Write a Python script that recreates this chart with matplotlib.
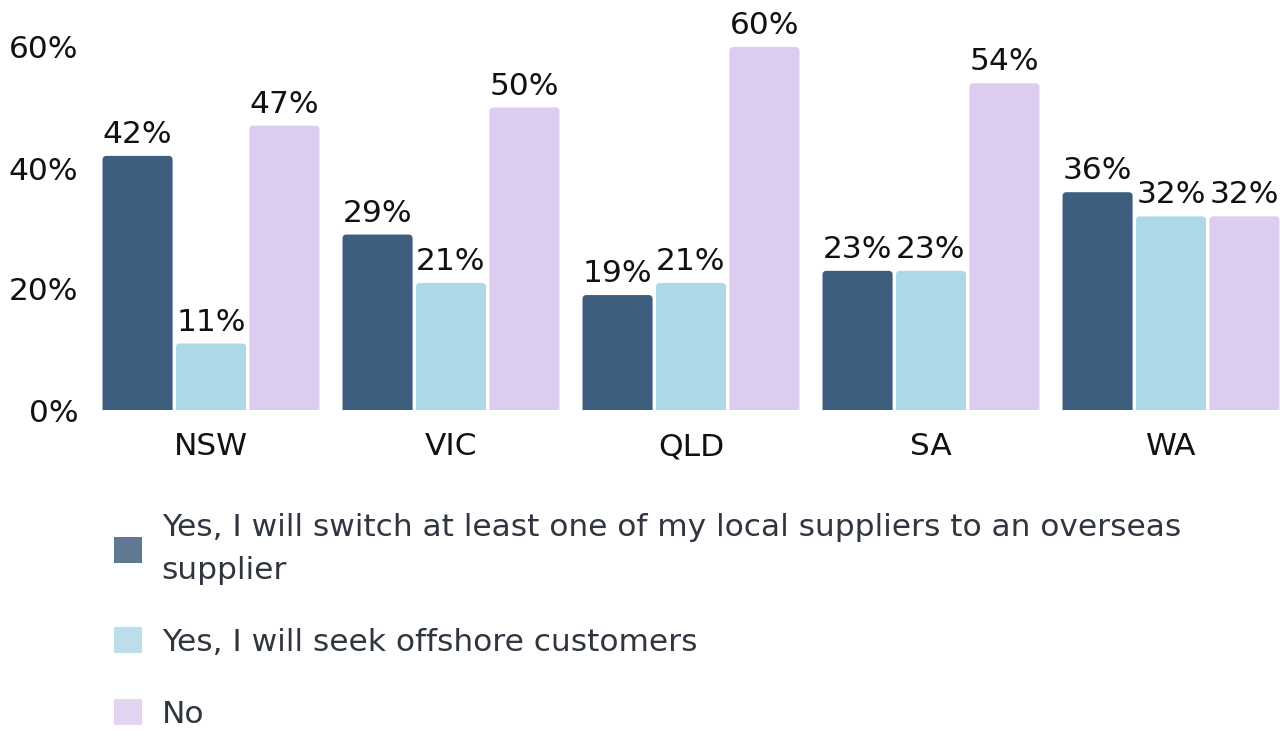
import matplotlib
matplotlib.use("Agg")
import matplotlib.pyplot as plt
from matplotlib.patches import Patch, FancyBboxPatch
import numpy as np

plt.rcParams['font.family'] = ['DejaVu Sans']

states = ["NSW", "VIC", "QLD", "SA", "WA"]
series_names = [
    "Yes, I will switch at least one of my local suppliers to an overseas\nsupplier",
    "Yes, I will seek offshore customers",
    "No",
]
switch_suppliers = [42, 29, 19, 23, 36]
offshore_customers = [11, 21, 21, 23, 32]
no_change = [47, 50, 60, 54, 32]
yticks = [0, 20, 40, 60]
colors = ["#3e5e80", "#add8e6", "#dccdf0"]

W, H = 1286, 738
fig = plt.figure(figsize=(W / 100, H / 100), dpi=100)
left, right = 91 / W, 1291 / W
bottom, top = 1 - 410 / H, 1 - 47 / H
ax = fig.add_axes([left, bottom, right - left, top - bottom])

ax.set_xlim(-0.5, len(states) - 0.5)
ax.set_ylim(0, 60)

# pixel scales for rounded corners
ax_w_px = (right - left) * W
ax_h_px = (top - bottom) * H
px_x = ax_w_px / len(states)   # px per x unit
px_y = ax_h_px / 60.0          # px per y unit
r_px = 4.0

x = np.arange(len(states))
offs = [-0.306, 0, 0.306]
bw = 0.292
fs = 22.5
for vals, off, c in zip([switch_suppliers, offshore_customers, no_change], offs, colors):
    bars = ax.bar(x + off, vals, width=bw, color=c, linewidth=0)
    for b, v in zip(bars, vals):
        bx, bwid, bh = b.get_x(), b.get_width(), b.get_height()
        b.set_visible(False)
        p = FancyBboxPatch((bx, -2), bwid, bh + 2,
                           boxstyle=f"round,pad=0,rounding_size={r_px / px_x}",
                           mutation_aspect=px_x / px_y,
                           facecolor=c, edgecolor="none")
        ax.add_patch(p)
        ax.annotate(f"{v}%", (bx + bwid / 2, v), xytext=(0, 5),
                    textcoords="offset points", ha="center", va="bottom",
                    fontsize=fs, color="#111111", clip_on=False)

ax.set_yticks(yticks)
ax.set_yticklabels([f"{t}%" for t in yticks])
ax.set_xticks(x)
ax.set_xticklabels(states)
ax.tick_params(axis="both", length=0, labelsize=fs, labelcolor="#111111")
ax.tick_params(axis="y", pad=9)
ax.tick_params(axis="x", pad=16)
for s in ax.spines.values():
    s.set_visible(False)

handles = [Patch(facecolor=c, alpha=0.83, edgecolor="none") for c in colors]
leg = fig.legend(handles, series_names, loc="upper left",
                 bbox_to_anchor=(101 / W, 1 - 501 / H), frameon=False,
                 fontsize=fs, handlelength=0.9, handleheight=0.9,
                 handletextpad=0.64, labelspacing=1.35, borderaxespad=0)
for t in leg.get_texts():
    t.set_color("#30363f")
    t.set_linespacing(1.6)

fig.savefig("out.png", dpi=100)
